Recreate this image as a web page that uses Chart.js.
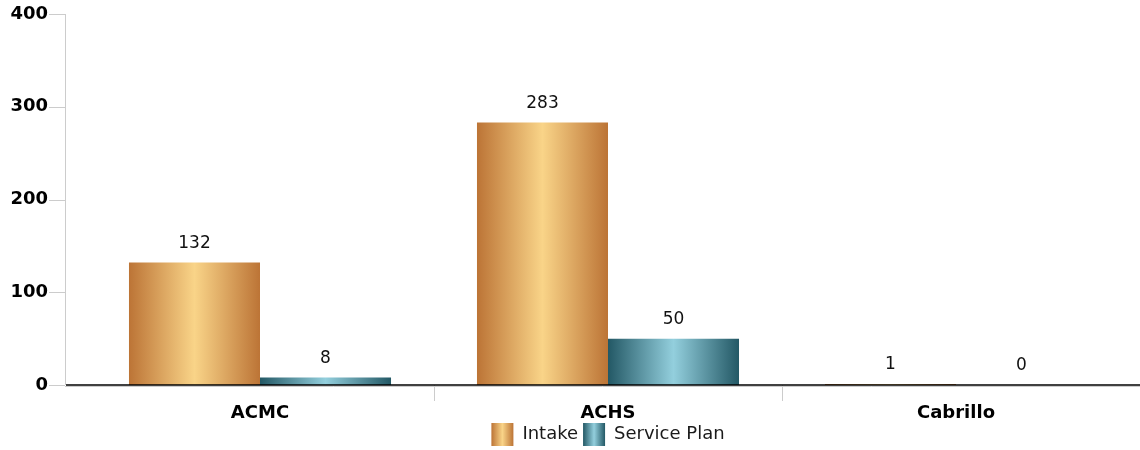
<!DOCTYPE html>
<html>
<head>
<meta charset="utf-8">
<script src="https://cdn.jsdelivr.net/npm/chart.js@4/dist/chart.umd.min.js"></script>
<style>
html,body{margin:0;padding:0;background:#fff;}
#wrap{width:1140px;height:450px;position:relative;}
</style>
</head>
<body>
<div id="wrap"><canvas id="c" width="1140" height="450"></canvas></div>
<script>
const categories = ["ACMC", "ACHS", "Cabrillo"];
const intakeValues = [132, 283, 1];
const servicePlanValues = [8, 50, 0];
const seriesNames = ["Intake", "Service Plan"];
const yTicks = [0, 100, 200, 300, 400];

const palettes = [
  {edge: "#BC7436", mid: "#F9D488", solid: "#D9A05A"},
  {edge: "#235865", mid: "#93CFDD", solid: "#4F8B98"}
];
const FONT = "'DejaVu Sans', Verdana, sans-serif";

function makeGrad(ctx, x0, x1, p) {
  const g = ctx.createLinearGradient(x0, 0, x1, 0);
  g.addColorStop(0, p.edge);
  g.addColorStop(0.5, p.mid);
  g.addColorStop(1, p.edge);
  return g;
}

const decor = {
  id: "decor",
  beforeDatasetsDraw(chart) {
    const ctx = chart.ctx;
    chart.data.datasets.forEach((ds, di) => {
      const meta = chart.getDatasetMeta(di);
      meta.data.forEach(el => {
        const {x, width} = el.getProps(["x", "width"], true);
        el.options.backgroundColor = makeGrad(ctx, x - width / 2, x + width / 2, palettes[di]);
      });
    });
  },
  afterDatasetsDraw(chart) {
    const ctx = chart.ctx;
    const ca = chart.chartArea;
    const ys = chart.scales.y, xs = chart.scales.x;
    const axisX = ca.left - 21;
    ctx.save();
    ctx.strokeStyle = "#cccccc";
    ctx.lineWidth = 1;
    ctx.beginPath();
    ctx.moveTo(axisX + 0.5, ys.getPixelForValue(yTicks[yTicks.length - 1]));
    ctx.lineTo(axisX + 0.5, ys.getPixelForValue(0));
    ctx.stroke();
    yTicks.forEach(v => {
      const y = Math.round(ys.getPixelForValue(v)) + 0.5;
      ctx.beginPath();
      ctx.moveTo(axisX - 16, y);
      ctx.lineTo(axisX, y);
      ctx.stroke();
    });
    const y0 = ys.getPixelForValue(0);
    for (let i = 1; i < categories.length; i++) {
      const bx = Math.round((xs.getPixelForValue(i - 1) + xs.getPixelForValue(i)) / 2) + 0.5;
      ctx.beginPath();
      ctx.moveTo(bx, y0);
      ctx.lineTo(bx, y0 + 16);
      ctx.stroke();
    }
    ctx.strokeStyle = "#cccccc";
    ctx.beginPath();
    ctx.moveTo(axisX, Math.round(y0) + 1.5);
    ctx.lineTo(chart.width, Math.round(y0) + 1.5);
    ctx.stroke();
    ctx.strokeStyle = "#000000";
    ctx.lineWidth = 1.5;
    ctx.beginPath();
    ctx.moveTo(axisX + 1, Math.round(y0));
    ctx.lineTo(chart.width, Math.round(y0));
    ctx.stroke();
    ctx.fillStyle = "#111111";
    ctx.font = "17px " + FONT;
    ctx.textAlign = "center";
    ctx.textBaseline = "middle";
    chart.data.datasets.forEach((ds, di) => {
      const meta = chart.getDatasetMeta(di);
      meta.data.forEach((el, i) => {
        const {x, y} = el.getProps(["x", "y"], true);
        ctx.fillText(String(ds.data[i]), x, y - 19);
      });
    });
    ctx.restore();
  },
  afterDraw(chart) {
    const lg = chart.legend;
    if (!lg || !lg.legendHitBoxes) return;
    const ctx = chart.ctx;
    ctx.save();
    lg.legendHitBoxes.forEach((hb, i) => {
      ctx.fillStyle = "#ffffff";
      ctx.fillRect(hb.left - 1, hb.top - 1, 24, 24);
      ctx.fillStyle = makeGrad(ctx, hb.left, hb.left + 22, palettes[i]);
      ctx.fillRect(hb.left, hb.top, 22, 23);
    });
    ctx.restore();
  }
};

new Chart(document.getElementById("c"), {
  type: "bar",
  data: {
    labels: categories,
    datasets: [
      {label: seriesNames[0], data: intakeValues, backgroundColor: (c) => palettes[0].solid, borderWidth: 0},
      {label: seriesNames[1], data: servicePlanValues, backgroundColor: (c) => palettes[1].solid, borderWidth: 0}
    ]
  },
  options: {
    responsive: false,
    animation: false,
    layout: {padding: {top: 14, right: 10, left: 0, bottom: -5}},
    datasets: {bar: {categoryPercentage: 0.753, barPercentage: 1.0}},
    scales: {
      x: {
        grid: {display: false, tickLength: 16},
        border: {display: false},
        ticks: {color: "#000", font: {family: FONT, size: 18, weight: "bold", lineHeight: 1}, padding: 3, maxRotation: 0},
        afterFit(s) { s.height = 33; s._computeLabelArea = () => undefined; }
      },
      y: {
        min: 0, max: 400,
        grid: {display: false, tickLength: 36},
        border: {display: false},
        afterBuildTicks(s) { s.ticks = yTicks.map(v => ({value: v})); },
        ticks: {color: "#000", font: {family: FONT, size: 18, weight: "bold"}, padding: 2},
        afterFit(s) { s.width = 86; }
      }
    },
    plugins: {
      legend: {
        position: "bottom",
        fullSize: false,
        labels: {
          boxWidth: 22, boxHeight: 22, padding: 5,
          color: "#1a1a1a",
          font: {family: FONT, size: 18}
        }
      },
      tooltip: {enabled: false}
    }
  },
  plugins: [decor]
});
</script>
</body>
</html>
